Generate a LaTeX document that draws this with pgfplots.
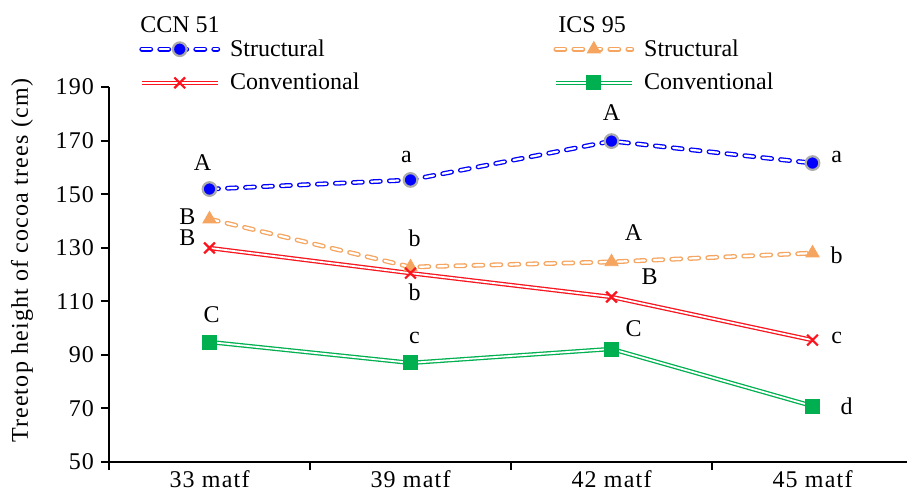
\documentclass[border=0pt]{standalone}
\usepackage{pgfplots}
\pgfplotsset{compat=1.18}
\usepackage{pgfplotstable}
\usepackage{fontspec}
\setmainfont{Liberation Serif}
\newfontfamily\spaced[LetterSpace=5]{Liberation Serif}
\newcommand\lf{\fontsize{12bp}{14bp}\selectfont}

\definecolor{cblue}{RGB}{0,0,255}
\definecolor{corange}{RGB}{245,165,95}
\definecolor{cred}{RGB}{250,20,30}
\definecolor{cgreen}{RGB}{0,176,80}

% treetop height (cm); x: 0=33, 1=39, 2=42, 3=45 matf
\pgfplotstableread{
x  ccs    ccc    ics    icc
0  151.9  129.9  140.7  94.8
1  155.3  120.5  122.8  87.0
2  169.8  111.6  124.7  92.2
3  161.6  95.5   128.0  70.9
}\heights

\tikzset{
  blueln/.style={draw=cblue, line width=0.65bp, double=white, double distance=1.1bp,
    line cap=round, dash pattern=on 4.5bp off 4.5bp},
  orangeln/.style={draw=corange, line width=0.65bp, double=white, double distance=1.1bp,
    line cap=round, dash pattern=on 4.5bp off 4.5bp},
  redln/.style={draw=cred, line width=0.65bp, double=white, double distance=0.9bp},
  greenln/.style={draw=cgreen, line width=0.65bp, double=white, double distance=0.9bp},
  lbl/.style={font=\lf, inner sep=0pt},
}
\pgfplotsset{
  dleg/.style={legend image code/.code={
      \draw[#1] (0bp,0bp) -- (38bp,0bp);
      \draw[##1] plot coordinates {(19bp,0bp)};
  }},
}

\begin{document}
\begin{tikzpicture}
\begin{axis}[
  name=ax,
  scale only axis, width=399bp, height=187.5bp,
  xmin=-0.5, xmax=3.47, ymin=50, ymax=190,
  clip=false,
  axis lines*=left,
  axis line style={line width=1bp, black},
  xtick={0,1,2,3},
  xticklabels={33 matf,39 matf,42 matf,45 matf},
  minor xtick={-0.5,0.5,1.5,2.5},
  ytick={50,70,...,190},
  tick align=outside,
  major tick length=4bp, minor tick length=4bp,
  major x tick style={draw=none},
  minor x tick style={black, line width=1bp},
  major y tick style={black, line width=1bp},
  /pgf/number format/assume math mode=true,
  tick label style={font=\lf\spaced},
  xticklabel style={yshift=3bp},
  ylabel={Treetop height of cocoa trees (cm)},
  every axis y label/.style={at={(axis description cs:0,0.536)}, xshift=-43.5bp,
    rotate=90, anchor=center, font=\lf\spaced},
  legend columns=2,
  legend cell align=left,
  legend style={draw=none, fill=none, font=\lf,
    at={(axis description cs:0.0388,1)}, anchor=south west,
    xshift=-3.5bp, yshift=-7bp,
    row sep=3bp,
    /tikz/every odd column/.append style={column sep=3bp},
    /tikz/every even column/.append style={column sep=95bp}},
]
% lines
\addplot[blueln, forget plot] table[x=x, y=ccs] {\heights};
\addplot[orangeln, forget plot] table[x=x, y=ics] {\heights};
\addplot[redln, forget plot] table[x=x, y=ccc] {\heights};
\addplot[greenln, forget plot] table[x=x, y=icc] {\heights};
% marks
\addplot[only marks, mark=*, mark size=3.4bp, mark options={fill=cblue, draw=gray!65, line width=1.1bp},
  dleg={blueln}] table[x=x, y=ccs] {\heights};
\addlegendentry{Structural}
\addplot[only marks, mark=triangle*, mark size=3.8bp, mark options={fill=corange, draw=corange},
  dleg={orangeln}] table[x=x, y=ics] {\heights};
\addlegendentry{Structural}
\addplot[only marks, mark=x, mark size=3.8bp, mark options={draw=cred, line width=1.1bp},
  dleg={redln}] table[x=x, y=ccc] {\heights};
\addlegendentry{Conventional}
\addplot[only marks, mark=square*, mark size=3.5bp, mark options={fill=cgreen, draw=cgreen},
  dleg={greenln}] table[x=x, y=icc] {\heights};
\addlegendentry{Conventional}

% letters
\node[lbl] at (axis cs:-0.035,161.6) {A};
\node[lbl] at (axis cs:0.98,163.8) {a};
\node[lbl] at (axis cs:2.0,180.6) {A};
\node[lbl] at (axis cs:3.12,163.8) {a};
\node[lbl] at (axis cs:-0.11,141.5) {B};
\node[lbl] at (axis cs:1.02,133.6) {b};
\node[lbl] at (axis cs:2.11,135.5) {A};
\node[lbl] at (axis cs:3.12,127.3) {b};
\node[lbl] at (axis cs:-0.11,133.6) {B};
\node[lbl] at (axis cs:1.02,113.5) {b};
\node[lbl] at (axis cs:2.19,119.1) {B};
\node[lbl] at (axis cs:3.12,96.3) {c};
\node[lbl] at (axis cs:0.01,104.9) {C};
\node[lbl] at (axis cs:1.02,96.3) {c};
\node[lbl] at (axis cs:2.11,99.6) {C};
\node[lbl] at (axis cs:3.17,70.9) {d};

% group headers
\node[font=\lf, anchor=base west, inner sep=0pt] at ([yshift=27bp]axis description cs:0.0388,1) {CCN 51};
\node[font=\lf, anchor=base west, inner sep=0pt] at ([yshift=27bp]axis description cs:0.5627,1) {ICS 95};
\end{axis}
\pgfresetboundingbox
\path[use as bounding box] ([xshift=-54.5bp,yshift=-15bp]ax.south west) rectangle ([yshift=43.5bp]ax.north east);
\end{tikzpicture}
\end{document}
